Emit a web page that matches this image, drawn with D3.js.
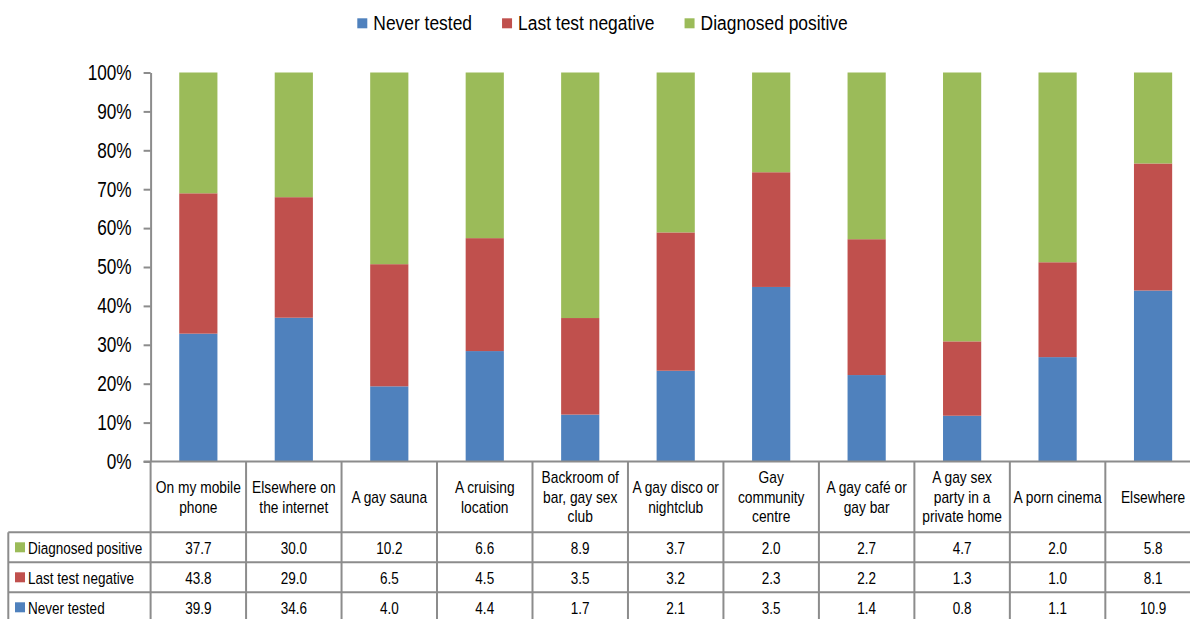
<!DOCTYPE html>
<html>
<head>
<meta charset="utf-8">
<script src="https://cdn.jsdelivr.net/npm/d3@7"></script>
<style>
  body { margin: 0; background: #fff; }
  svg { display: block; }
  text { font-family: "Liberation Sans", Arial, sans-serif; fill: #000; }
</style>
</head>
<body>
<svg id="chart" width="1190" height="619"></svg>
<script>
// ---------- data ----------
const categories = [
  "On my mobile\nphone",
  "Elsewhere on\nthe internet",
  "A gay sauna",
  "A cruising\nlocation",
  "Backroom of\nbar, gay sex\nclub",
  "A gay disco or\nnightclub",
  "Gay\ncommunity\ncentre",
  "A gay café or\ngay bar",
  "A gay sex\nparty in a\nprivate home",
  "A porn cinema",
  "Elsewhere"
];
const seriesNames = ["Never tested", "Last test negative", "Diagnosed positive"];
const neverTested       = [39.9, 34.6, 4.0, 4.4, 1.7, 2.1, 3.5, 1.4, 0.8, 1.1, 10.9];
const lastTestNegative  = [43.8, 29.0, 6.5, 4.5, 3.5, 3.2, 2.3, 2.2, 1.3, 1.0, 8.1];
const diagnosedPositive = [37.7, 30.0, 10.2, 6.6, 8.9, 3.7, 2.0, 2.7, 4.7, 2.0, 5.8];
const yTickValues = [0, 0.1, 0.2, 0.3, 0.4, 0.5, 0.6, 0.7, 0.8, 0.9, 1.0];
const seriesColors = ["#4F81BD", "#C0504D", "#9BBB59"];

// ---------- build ----------
const seriesValues = [neverTested, lastTestNegative, diagnosedPositive];
const rows = categories.map((c, i) => {
  const r = { category: c };
  seriesNames.forEach((s, k) => r[s] = seriesValues[k][i]);
  return r;
});
const stacked = d3.stack().keys(seriesNames).offset(d3.stackOffsetExpand)(rows);

const svg = d3.select("#chart");
const plotLeft = 150.6, plotRight = 1200.8, plotTop = 72.5, plotBottom = 461.5;
const tableLeft = 8.3, rowH = 30, headerBottom = 532.3;
const gridColor = "#8c8c8c";

function ntext(x, y, size, anchor, sx) {
  return svg.append("text")
    .attr("transform", `translate(${x},${y}) scale(${sx || 0.82},1)`)
    .attr("text-anchor", anchor || "start")
    .style("font-size", size + "px");
}

const xCol = d3.scaleBand().domain(categories).range([plotLeft, plotRight]).padding(0);
const xBar = d3.scaleBand().domain(categories).range([plotLeft, plotRight]).paddingInner(0.6).paddingOuter(0.3);
const y = d3.scaleLinear().domain([0, 1]).range([plotBottom, plotTop]);
const color = d3.scaleOrdinal().domain(seriesNames).range(seriesColors);

// bars
svg.append("g").selectAll("g").data(stacked).join("g")
  .attr("fill", d => color(d.key))
  .selectAll("rect").data(d => d).join("rect")
  .attr("x", d => xBar(d.data.category))
  .attr("width", xBar.bandwidth())
  .attr("y", d => y(d[1]))
  .attr("height", d => y(d[0]) - y(d[1]));

// y axis
const yAxis = svg.append("g").attr("transform", `translate(${plotLeft},0)`)
  .call(d3.axisLeft(y).tickValues(yTickValues).tickFormat(d3.format(".0%"))
        .tickSize(7).tickSizeOuter(0).tickPadding(12));
yAxis.select(".domain").attr("stroke", gridColor).attr("stroke-width", 2);
yAxis.selectAll(".tick line").attr("stroke", gridColor).attr("stroke-width", 2);
yAxis.selectAll(".tick text").style("font-size", "21.5px").attr("fill", "#000")
  .attr("x", 0).attr("transform", `translate(-19,0) scale(0.8,1)`);

// table grid
const grid = svg.append("g").attr("stroke", gridColor).attr("stroke-width", 2).attr("fill", "none");
const tableBottom = headerBottom + rowH * 3;
grid.append("line").attr("x1", plotLeft - 7).attr("x2", plotRight).attr("y1", plotBottom).attr("y2", plotBottom);
for (let k = 0; k <= 3; k++) {
  grid.append("line").attr("x1", tableLeft).attr("x2", plotRight)
    .attr("y1", headerBottom + k * rowH).attr("y2", headerBottom + k * rowH);
}
grid.append("line").attr("x1", tableLeft).attr("x2", tableLeft).attr("y1", headerBottom).attr("y2", tableBottom);
categories.forEach(c => {
  const x0 = xCol(c);
  grid.append("line").attr("x1", x0).attr("x2", x0).attr("y1", plotBottom).attr("y2", tableBottom);
});
grid.append("line").attr("x1", plotRight).attr("x2", plotRight).attr("y1", plotBottom).attr("y2", tableBottom);

// category header labels
const headerMid = (plotBottom + headerBottom) / 2;
const lineH = 19.5;
categories.forEach(c => {
  const lines = c.split("\n");
  const cx = xCol(c) + xCol.bandwidth() / 2;
  const y0 = headerMid - (lines.length - 1) / 2 * lineH + 6;
  const t = ntext(cx, y0, 16.8, "middle");
  lines.forEach((ln, j) => {
    t.append("tspan").attr("x", 0).attr("y", j * lineH).text(ln);
  });
});

// table rows (Diagnosed positive, Last test negative, Never tested)
const tableOrder = [2, 1, 0];
tableOrder.forEach((k, r) => {
  const cy = headerBottom + r * rowH + rowH / 2;
  svg.append("rect").attr("x", 15).attr("y", cy - 5).attr("width", 10).attr("height", 10)
    .attr("fill", seriesColors[k]);
  ntext(28, cy + 6.5, 16.5).text(seriesNames[k]);
  categories.forEach((c, i) => {
    ntext(xCol(c) + xCol.bandwidth() / 2, cy + 6.5, 16.5, "middle")
      .text(seriesValues[k][i].toFixed(1));
  });
});

// legend
let lx = 357.3;
const LSX = 0.83;
seriesNames.forEach((s, k) => {
  svg.append("rect").attr("x", lx).attr("y", 18.3).attr("width", 10).attr("height", 10).attr("fill", seriesColors[k]);
  const t = ntext(lx + 16, 30, 21, "start", LSX).text(s);
  lx = lx + 16 + t.node().getComputedTextLength() * LSX + 30;
});
</script>
</body>
</html>
